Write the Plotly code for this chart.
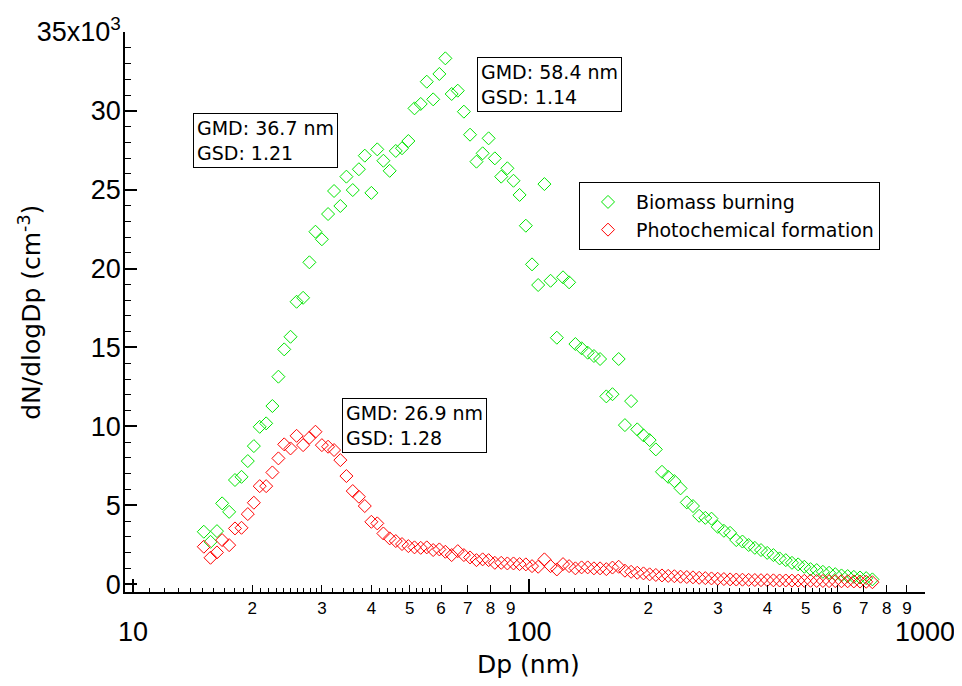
import plotly.graph_objects as go

# Particle diameter bins (nm)
dp_nm = [15.1, 15.7, 16.3, 16.8, 17.5, 18.1, 18.8, 19.5, 20.2, 20.9, 21.7, 22.5, 23.3, 24.1,
         25.0, 25.9, 26.9, 27.9, 28.9, 30.0, 31.1, 32.2, 33.4, 34.6, 35.9, 37.2, 38.5, 40.0,
         41.4, 42.9, 44.5, 46.1, 47.8, 49.6, 51.4, 53.3, 55.2, 57.3, 59.4, 61.5, 63.8, 66.1,
         68.5, 71.0, 73.7, 76.4, 79.1, 82.0, 85.1, 88.2, 91.4, 94.7, 98.2, 101.8, 105.5, 109.4,
         113.4, 117.6, 121.9, 126.3, 131.0, 135.8, 140.7, 145.9, 151.2, 156.8, 162.5, 168.5,
         174.7, 181.1, 187.7, 194.6, 201.7, 209.1, 216.7, 224.7, 232.9, 241.4, 250.3, 259.5,
         269.0, 278.8, 289.0, 299.6, 310.6, 322.0, 333.8, 346.0, 358.7, 371.8, 385.4, 399.5,
         414.2, 429.4, 445.1, 461.4, 478.3, 495.8, 514.0, 532.8, 552.3, 572.5, 593.5, 615.3,
         637.8, 661.2, 685.4, 710.5, 736.5]

# dN/dlogDp (cm^-3)
biomass_burning = [3320, 2680, 3360, 5120, 4580, 6600, 6800, 7800, 8750, 9970, 10190, 11290,
                   13150, 14880, 15680, 17900, 18150, 20400, 22340, 21860, 23460, 24920, 23970,
                   25830, 24980, 26300, 27160, 24800, 27560, 26840, 26200, 27460, 27630, 28090,
                   30160, 30440, 31850, 30730, 32340, 33330, 31070, 31280, 29950, 28490, 26780,
                   27310, 28260, 26990, 25830, 26360, 25570, 24670, 22720, 20270, 18960, 25360,
                   19230, 15620, 19450, 19130, 15220, 14950, 14670, 14460, 14270, 11900, 12040,
                   14270, 10080, 11600, 9810, 9430, 9130, 8540, 7120, 6800, 6530, 6070, 5180,
                   4950, 4330, 4200, 4150, 3630, 3380, 3250, 2790, 2700, 2480, 2300, 2160, 1980,
                   1840, 1630, 1520, 1350, 1250, 1100, 950, 890, 780, 720, 630, 550, 510, 460,
                   420, 380, 300]

photochemical_formation = [2370, 1670, 2010, 2790, 2470, 3530, 3570, 4440, 5160, 6210, 6210,
                           7080, 7970, 8860, 8600, 9400, 8810, 9280, 9660, 8810, 8710, 8500,
                           7860, 6850, 5900, 5540, 4950, 3950, 3850, 3210, 2900, 2730, 2540,
                           2410, 2330, 2300, 2330, 2160, 2200, 2050, 1840, 2090, 1840, 1690,
                           1520, 1570, 1520, 1350, 1350, 1310, 1310, 1270, 1250, 1140, 1100,
                           1570, 1140, 930, 1270, 1140, 1000, 1060, 1060, 1000, 1000, 950, 1050,
                           1100, 850, 780, 720, 680, 620, 580, 550, 520, 500, 470, 450, 430, 400,
                           380, 360, 340, 320, 300, 290, 280, 270, 260, 250, 250, 240, 230, 230,
                           220, 220, 210, 210, 200, 200, 190, 190, 180, 180, 170, 160, 150, 120]

# Axis tick labels
digit_ticks = [20, 30, 40, 50, 60, 70, 80, 90, 200, 300, 400, 500, 600, 700, 800, 900]
digit_labels = ["2", "3", "4", "5", "6", "7", "8", "9"] * 2
decade_ticks = [10, 100, 1000]
decade_labels = ["10", "100", "1000"]
y_ticks = [0, 5000, 10000, 15000, 20000, 25000, 30000, 35000]
y_labels = ["0", "5", "10", "15", "20", "25", "30", "35x10<sup>3</sup>"]

# minor tick positions on log axis
minor_x = []
for dec in (10, 100):
    for m in [1.1, 1.2, 1.3, 1.4, 1.5, 1.6, 1.7, 1.8, 1.9,
              2.1, 2.2, 2.3, 2.4, 2.5, 2.6, 2.7, 2.8, 2.9,
              3.2, 3.4, 3.6, 3.8, 4.2, 4.4, 4.6, 4.8, 5.2, 5.4, 5.6, 5.8]:
        minor_x.append(round(m * dec, 6))

GREEN = "#00e600"
RED = "#ff0000"
TICKFONT = "Liberation Sans, Arial, sans-serif"
TEXTFONT = "DejaVu Sans, sans-serif"

fig = go.Figure()
fig.add_trace(go.Scatter(x=dp_nm, y=biomass_burning, mode="markers", name="Biomass burning",
                         marker=dict(symbol="diamond-open", size=10, color=GREEN,
                                     line=dict(width=1, color=GREEN))))
fig.add_trace(go.Scatter(x=dp_nm, y=photochemical_formation, mode="markers",
                         name="Photochemical formation",
                         marker=dict(symbol="diamond-open", size=10, color=RED,
                                     line=dict(width=1, color=RED))))
# empty helper trace so the decade axis is drawn
fig.add_trace(go.Scatter(x=[], y=[], xaxis="x2", yaxis="y", showlegend=False,
                         hoverinfo="skip"))

xrange = [0.98, 3.0]

fig.update_layout(
    width=962, height=686,
    margin=dict(l=117, r=45, t=24, b=102),
    paper_bgcolor="white", plot_bgcolor="white",
    template="none",
    showlegend=True,
    legend=dict(x=0.5675, y=0.732, xanchor="left", yanchor="top",
                bordercolor="black", borderwidth=1, bgcolor="white",
                font=dict(family=TEXTFONT, size=19, color="black"),
                itemwidth=46, tracegroupgap=0),
    xaxis=dict(type="log", range=xrange, showgrid=False, zeroline=False,
               showline=True, linewidth=1.5, linecolor="black",
               tickmode="array", tickvals=digit_ticks, ticktext=digit_labels,
               ticks="inside", ticklen=7, tickwidth=1, tickcolor="black",
               tickfont=dict(family=TICKFONT, size=17, color="black"),
               ticklabelstandoff=0,
               minor=dict(tickmode="array", tickvals=minor_x, ticks="inside",
                          ticklen=4, tickwidth=1, tickcolor="black", showgrid=False)),
    xaxis2=dict(type="log", range=xrange, overlaying="x", anchor="y", side="bottom",
                showgrid=False, zeroline=False, showline=False,
                tickmode="array", tickvals=decade_ticks, ticktext=decade_labels,
                ticks="inside", ticklen=13, tickwidth=1.5, tickcolor="black",
                tickfont=dict(family=TICKFONT, size=27, color="black"),
                ticklabelstandoff=21),
    yaxis=dict(range=[-500, 35000], showgrid=False, zeroline=False,
               showline=True, linewidth=1.5, linecolor="black",
               tickmode="array", tickvals=y_ticks, ticktext=y_labels,
               ticks="inside", ticklen=12, tickwidth=1.5, tickcolor="black",
               tickfont=dict(family=TICKFONT, size=27, color="black"),
               ticklabelstandoff=-3,
               minor=dict(dtick=1000, tick0=0, ticks="inside", ticklen=6,
                          tickwidth=1, tickcolor="black", showgrid=False)),
)

box_font = dict(family=TEXTFONT, size=19, color="black")
boxes = [
    ("GMD: 36.7 nm<br>GSD: 1.21", 0.085, 0.855),
    ("GMD: 58.4 nm<br>GSD: 1.14", 0.44, 0.955),
    ("GMD: 26.9 nm<br>GSD: 1.28", 0.271, 0.346),
]
for txt, ax_, ay_ in boxes:
    fig.add_annotation(text=txt, xref="paper", yref="paper", x=ax_, y=ay_,
                       xanchor="left", yanchor="top", align="left", showarrow=False,
                       bordercolor="black", borderwidth=1, borderpad=3,
                       bgcolor="white", font=box_font)

# axis titles
fig.add_annotation(text="Dp (nm)", xref="paper", yref="paper", x=0.504, y=-0.13,
                   xanchor="center", yanchor="middle", showarrow=False,
                   font=dict(family=TEXTFONT, size=25, color="black"))
fig.add_annotation(text="dN/dlogDp (cm<sup>-3</sup>)", xref="paper", yref="paper",
                   x=-0.119, y=0.5, xanchor="center", yanchor="middle", textangle=-90,
                   showarrow=False, font=dict(family=TEXTFONT, size=25, color="black"))

fig.write_html("out.html")
